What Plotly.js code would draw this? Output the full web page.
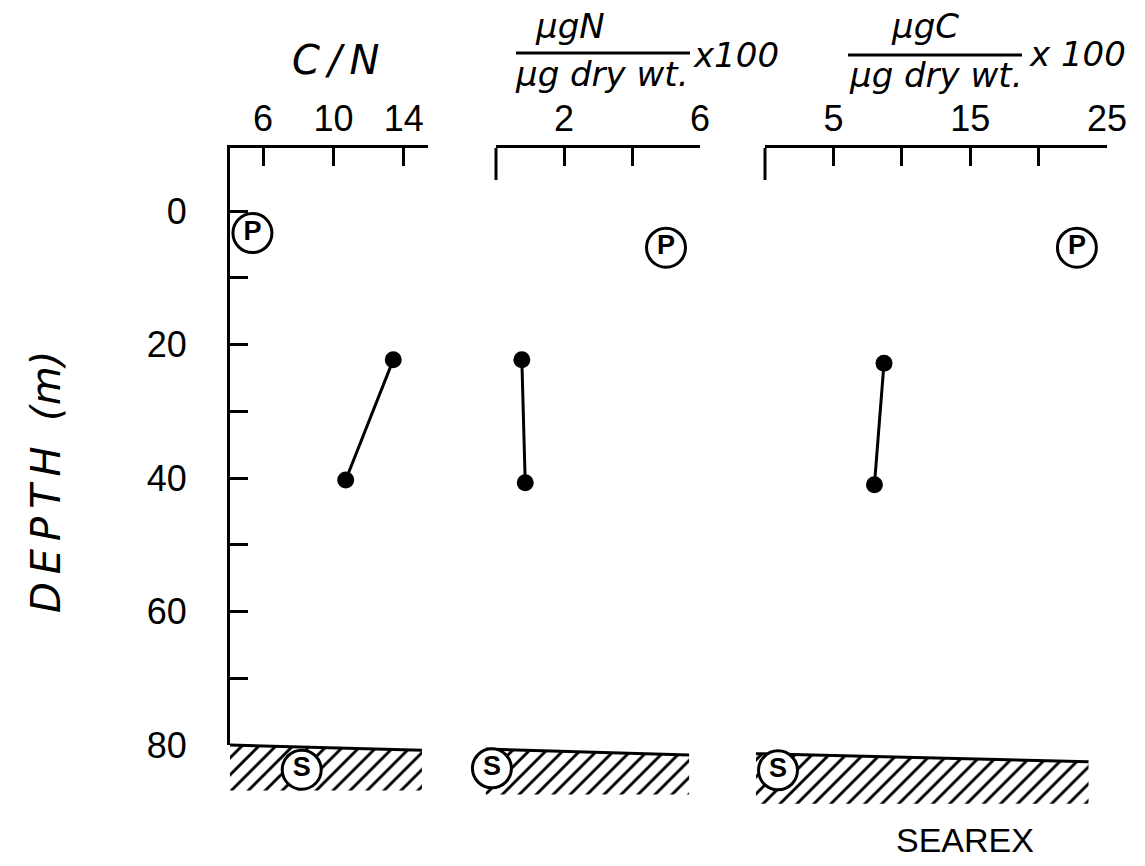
<!DOCTYPE html>
<html><head><meta charset="utf-8">
<script src="https://cdn.plot.ly/plotly-3.0.1.min.js"></script>
<style>html,body{margin:0;padding:0;background:#fff;}#chart{width:1145px;height:866px;}</style>
</head><body><div id="chart"></div>
<script>
// ---------------- data ----------------
// suspended particulate samples (depth in m)
const depthCN = [22.3, 40.3];
const valueCN = [13.4, 10.7];
const depthN  = [22.3, 40.7];
const valueN  = [0.76, 0.86];
const depthC  = [22.8, 41.0];
const valueC  = [8.7, 8.0];

// plankton (P) samples: C/N, N, C panels
const planktonDepth = [3.3, 5.5, 5.5];
const planktonValue = [5.4, 5.0, 22.8];

// sediment (S) samples: C/N, N, C panels
const sedimentDepth = [83.7, 83.5, 83.8];
const sedimentValue = [8.2, -0.12, 0.95];

// sea floor drawn in each panel: [start, end] along the panel axis, depth at both ends
const floorXCN = [4.125, 15.03];  const floorTopCN = [80.0, 80.8];  const floorBotCN = 86.8;
const floorXN  = [-0.3, 5.68];    const floorTopN  = [80.6, 81.5];  const floorBotN  = 87.4;
const floorXC  = [-0.66, 23.65];  const floorTopC  = [81.3, 82.5];  const floorBotC  = 88.8;

// ticks
const depthTicks = [0, 10, 20, 30, 40, 50, 60, 70, 80];
const depthTickText = ['0', '', '20', '', '40', '', '60', '', '80'];
const cnTicks = [6, 10, 14];
const nTicks = [0, 2, 4, 6];
const nTickText = ['', '2', '', '6'];
const cTicks = [0, 5, 10, 15, 20, 25];
const cTickText = ['', '5', '', '15', '', '25'];

// axis ranges
const cnRange = [4.125, 15.375];
const nRange = [0, 6];
const cRange = [0, 25];
const depthRange = [80, -9.44];

// ---------------- geometry ----------------
const W = 1145, H = 866;
const PX = v => v / W;
const PY = v => 1 - v / H;
const yPix = [745, 148];                 // pixel rows of depthRange ends
const cnPix = [230, 428], nPix = [496, 700], cPix = [765, 1107];

function extendRange(range, pix, newPix) {
  const s = (range[1] - range[0]) / (pix[1] - pix[0]);
  return [range[0] + (newPix[0] - pix[0]) * s, range[0] + (newPix[1] - pix[0]) * s];
}
const cnWidePix = [212, 440], nWidePix = [470, 712], cWidePix = [740, 1118];
const yWidePix = [835, 148];
const cnWide = extendRange(cnRange, cnPix, cnWidePix);
const nWide = extendRange(nRange, nPix, nWidePix);
const cWide = extendRange(cRange, cPix, cWidePix);
const depthWide = extendRange(depthRange, yPix, yWidePix);
const pxPerM = (yPix[0] - yPix[1]) / (depthRange[0] - depthRange[1]);

const FONT = 'Liberation Sans, Arial, sans-serif';
const TFONT = 'DejaVu Sans, Liberation Sans, sans-serif';
const black = '#000';

function dots(x, y, xa, ya) {
  return {x, y, xaxis: xa, yaxis: ya, type: 'scatter', mode: 'lines+markers',
    line: {color: black, width: 3}, marker: {color: black, size: 17},
    cliponaxis: false, hoverinfo: 'skip', showlegend: false};
}
function circled(x, y, letter, xa, ya) {
  return {x: [x], y: [y], xaxis: xa, yaxis: ya, type: 'scatter', mode: 'markers+text',
    text: [letter], textposition: 'middle center',
    textfont: {family: FONT, size: 27, color: black, weight: 'bold'},
    marker: {symbol: 'circle', size: 39, color: '#fff', line: {color: black, width: 3}},
    cliponaxis: false, hoverinfo: 'skip', showlegend: false};
}
function hatch(xs, top, bot, xa) {
  return {x: [xs[0], xs[1], xs[1], xs[0], xs[0]], y: [top[0], top[1], bot, bot, top[0]],
    xaxis: xa, yaxis: 'y2', type: 'scatter', mode: 'lines', fill: 'toself',
    line: {width: 0, color: 'rgba(0,0,0,0)'}, fillcolor: '#fff',
    fillpattern: {shape: '/', size: 12, solidity: 0.24, fgcolor: black, bgcolor: '#fff'},
    hoverinfo: 'skip', showlegend: false};
}
function floorLine(xs, top, xa) {
  return {x: xs, y: top, xaxis: xa, yaxis: 'y2', type: 'scatter', mode: 'lines',
    line: {color: black, width: 3}, hoverinfo: 'skip', showlegend: false};
}
function startTick(r, xa) {
  const len = 32 / pxPerM;
  return {x: [r[0], r[0]], y: [depthRange[1], depthRange[1] + len], xaxis: xa, yaxis: 'y2',
    type: 'scatter', mode: 'lines', line: {color: black, width: 3}, hoverinfo: 'skip', showlegend: false};
}

const traces = [
  hatch(floorXCN, floorTopCN, floorBotCN, 'x4'), floorLine(floorXCN, floorTopCN, 'x4'),
  hatch(floorXN, floorTopN, floorBotN, 'x5'), floorLine(floorXN, floorTopN, 'x5'),
  hatch(floorXC, floorTopC, floorBotC, 'x6'), floorLine(floorXC, floorTopC, 'x6'),
  startTick(nRange, 'x5'), startTick(cRange, 'x6'),
  circled(sedimentValue[0], sedimentDepth[0], 'S', 'x4', 'y2'),
  circled(sedimentValue[1], sedimentDepth[1], 'S', 'x5', 'y2'),
  circled(sedimentValue[2], sedimentDepth[2], 'S', 'x6', 'y2'),
  dots(valueCN, depthCN, 'x', 'y'),
  dots(valueN, depthN, 'x2', 'y'),
  dots(valueC, depthC, 'x3', 'y'),
  circled(planktonValue[0], planktonDepth[0], 'P', 'x', 'y'),
  circled(planktonValue[1], planktonDepth[1], 'P', 'x2', 'y'),
  circled(planktonValue[2], planktonDepth[2], 'P', 'x3', 'y'),
];

const tickFont = {family: FONT, size: 36, color: black};
function topAxis(range, pix, tickvals, ticktext) {
  const a = {domain: [PX(pix[0]), PX(pix[1])], range, side: 'top', anchor: 'y',
    showline: true, linewidth: 3, linecolor: black, ticks: 'inside', ticklen: 18, tickwidth: 3,
    tickcolor: black, tickmode: 'array', tickvals, showgrid: false, zeroline: false,
    tickfont: tickFont, ticklabelstandoff: 0, fixedrange: true};
  if (ticktext) a.ticktext = ticktext;
  return a;
}
function hidden(range, pix, anchor) {
  return {domain: [PX(pix[0]), PX(pix[1])], range, visible: false, anchor, fixedrange: true};
}

const ital = (size) => ({family: TFONT, size, color: black, style: 'italic'});
function ann(text, x, y, size, extra) {
  return Object.assign({text, x: PX(x), y: PY(y), xref: 'paper', yref: 'paper', showarrow: false,
    xanchor: 'center', yanchor: 'middle', font: ital(size)}, extra || {});
}

const layout = {
  width: W, height: H, margin: {l: 0, r: 0, t: 0, b: 0},
  paper_bgcolor: '#fff', plot_bgcolor: 'rgba(0,0,0,0)', showlegend: false,
  xaxis: topAxis(cnRange, cnPix, cnTicks),
  xaxis2: topAxis(nRange, nPix, nTicks, nTickText),
  xaxis3: topAxis(cRange, cPix, cTicks, cTickText),
  xaxis4: hidden(cnWide, cnWidePix, 'y2'),
  xaxis5: hidden(nWide, nWidePix, 'y2'),
  xaxis6: hidden(cWide, cWidePix, 'y2'),
  yaxis: {domain: [PY(yPix[0]), PY(yPix[1])], range: depthRange, anchor: 'x',
    showline: true, linewidth: 3, linecolor: black, ticks: 'inside', ticklen: 18, tickwidth: 3,
    tickcolor: black, tickmode: 'array', tickvals: depthTicks, ticktext: depthTickText,
    tickfont: tickFont, ticklabelstandoff: 33, showgrid: false, zeroline: false, fixedrange: true},
  yaxis2: {domain: [PY(yWidePix[0]), PY(yWidePix[1])], range: depthWide, visible: false, anchor: 'x4', fixedrange: true},
  annotations: [
    ann('C\u2009/\u2009N', 336, 60, 40),
    ann('µgN', 570, 26, 34),
    ann('µg dry wt.', 601, 74, 34),
    ann('x100', 736, 55, 34),
    ann('µgC', 925, 26, 34),
    ann('µg dry wt.', 935, 75, 34),
    ann('x 100', 1077, 54, 34),
    ann('D\u2009E\u2009P\u2009T\u2009H  (m)', 46, 482, 40, {textangle: -90}),
    ann('SEAREX', 965, 840, 34, {font: {family: FONT, size: 34, color: black}}),
  ],
  shapes: [
    {type: 'line', xref: 'paper', yref: 'paper', x0: PX(516), x1: PX(690), y0: PY(53), y1: PY(53), line: {color: black, width: 3}},
    {type: 'line', xref: 'paper', yref: 'paper', x0: PX(848), x1: PX(1022), y0: PY(55), y1: PY(55), line: {color: black, width: 3}},
  ],
};

Plotly.newPlot('chart', traces, layout, {staticPlot: true, displayModeBar: false});
</script>
</body></html>
